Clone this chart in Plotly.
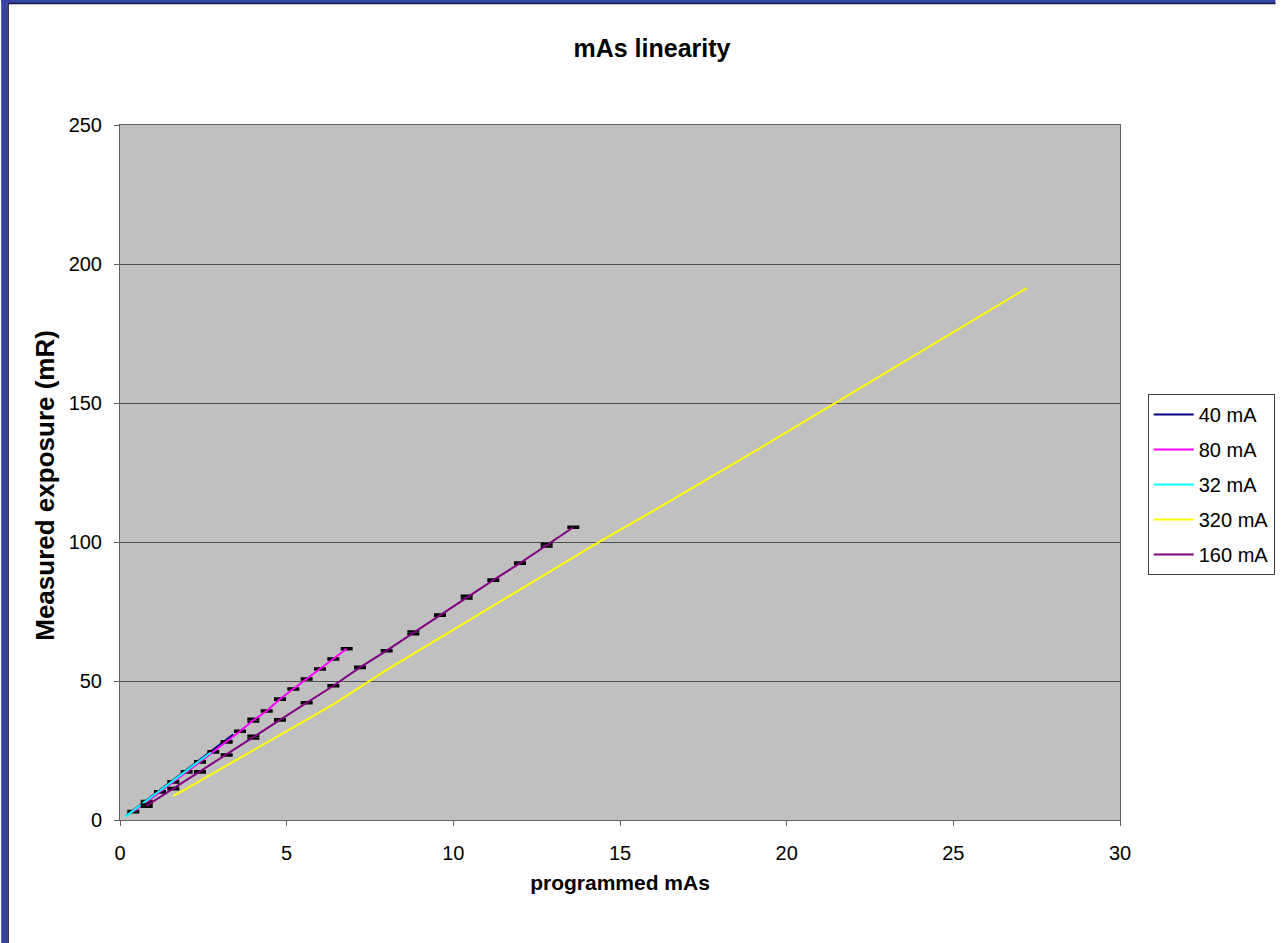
import plotly.graph_objects as go

# ---- data ----
mas_40 = [0.2, 0.4, 0.6, 0.8, 1.0, 1.2, 1.4, 1.6, 1.8, 2.0, 2.2, 2.4, 2.6, 2.8, 3.0, 3.2, 3.4]
mr_40 = [1.7, 3.5, 5.3, 7.1, 8.9, 10.8, 12.6, 14.4, 16.2, 18.0, 19.8, 21.6, 23.4, 25.2, 27.1, 28.9, 30.8]

mas_80 = [0.4, 0.8, 1.2, 1.6, 2.0, 2.4, 2.8, 3.2, 3.6, 4.0, 4.4, 4.8, 5.2, 5.6, 6.0, 6.4, 6.8]
mr_80 = [3.0, 6.5, 10.1, 13.7, 17.3, 20.9, 24.5, 28.1, 31.9, 35.9, 39.2, 43.5, 47.1, 50.7, 54.3, 57.9, 61.6]
err_80 = [0.2, 0.3, 0.2, 0.2, 0.2, 0.2, 0.2, 0.2, 0.2, 0.5, 0.2, 0.2, 0.2, 0.2, 0.2, 0.2, 0.2]

mas_32 = [0.16, 0.32, 0.48, 0.64, 0.80, 0.96, 1.12, 1.28, 1.44, 1.60, 1.76, 1.92, 2.08, 2.24, 2.40, 2.56, 2.72]
mr_32 = [1.2, 2.7, 4.1, 5.6, 7.0, 8.4, 9.9, 11.3, 12.8, 14.2, 15.6, 17.1, 18.5, 20.0, 21.4, 22.8, 24.3]

mas_320 = [1.6, 3.2, 4.8, 6.4, 8.0, 9.6, 11.2, 12.8, 14.4, 16.0, 17.6, 19.2, 20.8, 22.4, 24.0, 25.6, 27.2]
mr_320 = [8.6, 19.6, 30.6, 41.6, 54.0, 65.5, 77.0, 88.6, 100.2, 111.2, 122.4, 133.8, 145.3, 156.8, 168.3, 179.8, 191.3]

mas_160 = [0.8, 1.6, 2.4, 3.2, 4.0, 4.8, 5.6, 6.4, 7.2, 8.0, 8.8, 9.6, 10.4, 11.2, 12.0, 12.8, 13.6]
mr_160 = [5.2, 11.3, 17.3, 23.4, 29.8, 36.0, 42.2, 48.3, 54.9, 60.9, 67.3, 73.7, 80.2, 86.3, 92.4, 98.9, 105.3]
err_160 = [0.4, 0.2, 0.2, 0.2, 0.5, 0.2, 0.2, 0.2, 0.2, 0.2, 0.5, 0.2, 0.5, 0.2, 0.2, 0.5, 0.2]

x_ticks = [0, 5, 10, 15, 20, 25, 30]
y_ticks = [0, 50, 100, 150, 200, 250]

FONT = "Liberation Sans, Arial, sans-serif"

fig = go.Figure()

def err(arr):
    return dict(type="data", array=arr, visible=True, color="black", thickness=2.5, width=6)

fig.add_trace(go.Scatter(x=mas_40, y=mr_40, mode="lines", name="40 mA", legendgroup="a",
                         line=dict(color="#000080", width=2)))
fig.add_trace(go.Scatter(x=mas_80, y=mr_80, mode="lines", name="80 mA", legendgroup="b",
                         line=dict(color="#FF00FF", width=2), error_y=err(err_80)))
fig.add_trace(go.Scatter(x=mas_32, y=mr_32, mode="lines", name="32 mA", legendgroup="c",
                         line=dict(color="#00FFFF", width=2)))
fig.add_trace(go.Scatter(x=mas_320, y=mr_320, mode="lines", name="320 mA", legendgroup="d",
                         line=dict(color="#FFFF00", width=2)))
fig.add_trace(go.Scatter(x=mas_160, y=mr_160, mode="lines", name="160 mA", legendgroup="e",
                         line=dict(color="#800080", width=2), error_y=err(err_160)))

L, R, T, B = 120, 157, 125, 123
W, H = 1287, 943
pw, ph = W - L - R, H - T - B

def px(xp):
    return (xp - L) / pw

def py(yp):
    return (H - B - yp) / ph

shapes = [
    # blue frame (left and top)
    dict(type="rect", xref="paper", yref="paper", x0=px(0), x1=px(6.5), y0=py(H), y1=py(0),
         fillcolor="#3444A0", line=dict(width=0), layer="above"),
    dict(type="rect", xref="paper", yref="paper", x0=px(0), x1=px(W), y0=py(3), y1=py(0),
         fillcolor="#3444A0", line=dict(width=0), layer="above"),
    dict(type="line", xref="paper", yref="paper", x0=px(7), x1=px(7), y0=py(H), y1=py(3.5),
         line=dict(color="#1A1A40", width=1.5), layer="above"),
    dict(type="line", xref="paper", yref="paper", x0=px(7), x1=px(W), y0=py(3.5), y1=py(3.5),
         line=dict(color="#1A1A40", width=1.5), layer="above"),
]

annotations = [
    dict(text="<b>Measured exposure (mR)</b>", textangle=-90, showarrow=False,
         xref="paper", yref="paper", x=px(44), y=py(485), xanchor="center", yanchor="middle",
         font=dict(size=26, family=FONT, color="black")),
]

fig.update_layout(
    width=W, height=H,
    margin=dict(l=L, r=R, t=T, b=B),
    paper_bgcolor="white",
    plot_bgcolor="#C0C0C0",
    font=dict(family=FONT, color="black", size=20),
    title=dict(text="<b>mAs linearity</b>", font=dict(size=25, family=FONT, color="black"),
               xref="container", x=652 / W, xanchor="center",
               yref="container", y=1 - 48 / H, yanchor="middle"),
    xaxis=dict(range=[0, 30], tickvals=x_ticks, ticks="outside", ticklen=5, tickcolor="#606060",
               showline=True, linecolor="#606060", linewidth=1, mirror=True,
               showgrid=False, zeroline=False, ticklabelstandoff=10,
               tickfont=dict(size=20, family=FONT, color="black"),
               title=dict(text="<b>programmed mAs</b>", font=dict(size=21, family=FONT, color="black"),
                          standoff=12)),
    yaxis=dict(range=[0, 250], tickvals=y_ticks, ticks="outside", ticklen=5, tickcolor="#606060",
               showline=True, linecolor="#606060", linewidth=1, mirror=True,
               showgrid=True, gridcolor="#505050", gridwidth=1, zeroline=False,
               ticklabelstandoff=8,
               tickfont=dict(size=20, family=FONT, color="black")),
    legend=dict(x=px(1158), xanchor="left", y=py(394), yanchor="top",
                bgcolor="white", bordercolor="#404040", borderwidth=1,
                font=dict(size=20, family=FONT, color="black"),
                tracegroupgap=6, itemwidth=40, traceorder="grouped"),
    shapes=shapes,
    annotations=annotations,
    showlegend=True,
)

fig.write_html("out.html")
